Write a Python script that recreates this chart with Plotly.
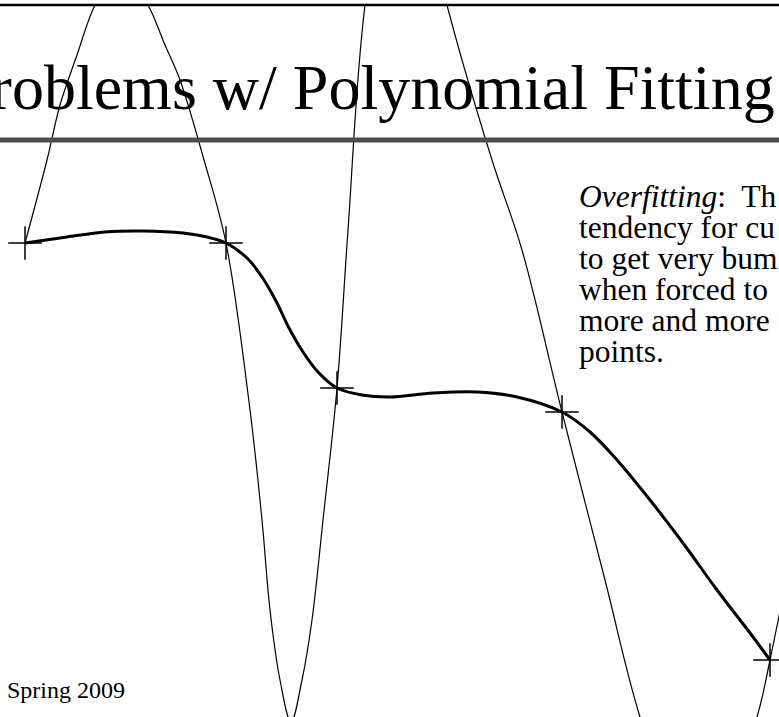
import plotly.graph_objects as go

# Data points (knots)
pt_x = [25, 226, 337, 562, 770]
pt_y = [243, 243, 388, 412, 660]

# Smooth (spline) fit through the points - thick curve
fit_x = [25, 67, 105, 143, 183, 207, 226, 247, 262, 276, 289, 303, 318, 337,
         362, 390, 433, 477, 517, 562, 590, 617, 650, 683, 717, 750, 770]
fit_y = [243, 237, 232, 231, 233, 237, 243, 258, 277, 301, 328, 352, 372, 388,
         395, 397, 393, 392, 397, 412, 432, 460, 500, 543, 590, 633, 660]

# High-order polynomial through the points - thin curve
poly_x = [25, 47, 60, 77, 95, 121, 148, 165, 180, 204, 226, 250, 262, 270, 280,
          291, 302, 312, 323, 337, 348, 365, 400, 447, 492, 522, 562,
          605, 640, 698, 757, 770, 790]
poly_y = [243, 160, 105, 55, 5, -35, 5, 45, 80, 160, 243, 410, 520, 610, 680,
          722, 680, 620, 520, 388, 230, 5, -200, 5, 160, 250, 412,
          580, 717, 880, 717, 660, 560]

title_text = "Problems w/ Polynomial Fitting"
side_lines = ["<i>Overfitting</i>:  Th", "tendency for cu", "to get very bum",
              "when forced to", "more and more", "points."]
footer_text = "Spring 2009"

fig = go.Figure()
fig.add_trace(go.Scatter(x=poly_x, y=poly_y, mode="lines",
                         line=dict(color="black", width=1.2, shape="spline"),
                         hoverinfo="skip"))
fig.add_trace(go.Scatter(x=fit_x, y=fit_y, mode="lines",
                         line=dict(color="black", width=3, shape="spline"),
                         hoverinfo="skip"))
fig.add_trace(go.Scatter(x=pt_x, y=pt_y, mode="markers",
                         marker=dict(symbol="cross-thin", size=24,
                                     line=dict(color="black", width=1.5)),
                         hoverinfo="skip", cliponaxis=False))

serif = "Liberation Serif, Times New Roman, serif"
annotations = [
    dict(text=title_text, x=777, y=87, xref="x", yref="y", xanchor="right",
         yanchor="middle", showarrow=False, font=dict(family=serif, size=64, color="black")),
    dict(text=footer_text, x=5, y=690, xref="x", yref="y", xanchor="left",
         yanchor="middle", showarrow=False, font=dict(family=serif, size=24, color="black")),
]
for i, s in enumerate(side_lines):
    annotations.append(dict(text=s, x=577, y=196 + 31 * i, xref="x", yref="y",
                            xanchor="left", yanchor="middle", showarrow=False,
                            font=dict(family=serif, size=31.5, color="black")))

fig.update_layout(
    width=779, height=717,
    margin=dict(l=0, r=0, t=5, b=0),
    paper_bgcolor="white", plot_bgcolor="white",
    showlegend=False,
    xaxis=dict(range=[0, 779], visible=False, fixedrange=True),
    yaxis=dict(range=[717, 5], visible=False, fixedrange=True),
    annotations=annotations,
    shapes=[
        dict(type="line", xref="paper", yref="paper", x0=0, x1=1, y0=1, y1=1,
             line=dict(color="black", width=2.5)),
        dict(type="line", xref="paper", yref="y", x0=0, x1=1, y0=140, y1=140,
             line=dict(color="#4d4d4d", width=5)),
    ],
)
fig.write_html("out.html", config={"displayModeBar": False},
               post_script="document.body.style.margin='0';")
